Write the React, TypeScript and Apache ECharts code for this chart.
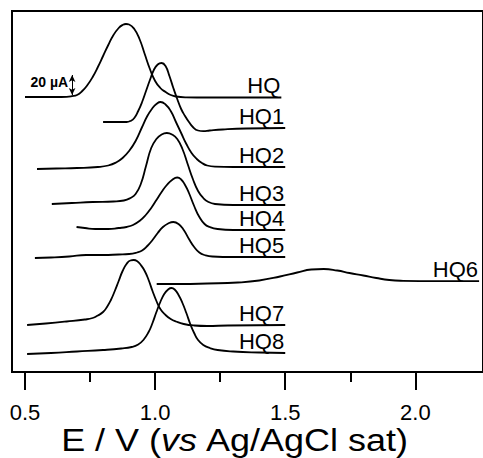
import React, { useEffect, useRef } from "react";
import * as echarts from "echarts";

// Potential axis (E / V) tick values
const majorTicks = [0.5, 1.0, 1.5, 2.0];
const minorTicks = [0.75, 1.25, 1.75];

// Curve labels (drawn at the end of each curve)
const curveNames = ["HQ", "HQ1", "HQ2", "HQ3", "HQ4", "HQ5", "HQ6", "HQ7", "HQ8"];

// Current traces [E (V), current offset (µA)]
const hq = [[0.50, 275], [0.56, 275], [0.62, 275], [0.66, 275.2], [0.68, 275.8], [0.70, 277], [0.72, 281], [0.74, 287], [0.76, 295], [0.78, 305], [0.80, 316], [0.82, 327], [0.84, 337], [0.86, 344], [0.875, 347], [0.888, 348], [0.90, 347.5], [0.92, 343], [0.94, 333], [0.96, 318], [0.98, 303], [1.00, 291], [1.02, 284], [1.04, 280], [1.06, 277], [1.08, 275.5], [1.12, 274.7], [1.20, 274.5], [1.35, 274.5], [1.485, 274.5]];
const hq1 = [[0.80, 250], [0.85, 250], [0.89, 250], [0.905, 251], [0.92, 254], [0.935, 261], [0.95, 270], [0.965, 281], [0.98, 292], [0.995, 302], [1.01, 307.5], [1.025, 309], [1.04, 306], [1.055, 296], [1.07, 284], [1.085, 273], [1.10, 263], [1.115, 256], [1.13, 250], [1.145, 245], [1.165, 241.5], [1.185, 240.8], [1.21, 241.5], [1.26, 242.5], [1.35, 243.5], [1.50, 244]];
const hq2 = [[0.546, 203], [0.62, 203.5], [0.70, 204], [0.78, 205], [0.82, 206.5], [0.85, 209.5], [0.875, 214], [0.90, 221], [0.925, 231], [0.95, 245], [0.97, 256], [0.99, 264], [1.005, 268], [1.021, 270], [1.04, 267.5], [1.06, 261], [1.08, 250], [1.10, 239], [1.12, 228], [1.14, 219], [1.16, 213], [1.18, 209], [1.20, 206.5], [1.23, 205.3], [1.30, 205], [1.50, 205]];
const hq3 = [[0.603, 168], [0.68, 169], [0.76, 170], [0.84, 170.5], [0.88, 171.5], [0.905, 174], [0.925, 178], [0.945, 188], [0.965, 206], [0.985, 224], [1.005, 233], [1.025, 237.5], [1.045, 239], [1.065, 237.5], [1.085, 233], [1.105, 223], [1.125, 208], [1.145, 193], [1.165, 181], [1.185, 174], [1.205, 170], [1.23, 168], [1.30, 167], [1.50, 167]];
const hq4 = [[0.698, 145], [0.73, 144], [0.77, 143], [0.82, 143], [0.86, 144], [0.89, 145], [0.915, 147], [0.94, 151], [0.964, 157], [0.985, 164], [1.005, 172], [1.025, 180], [1.045, 187], [1.065, 192], [1.085, 194.5], [1.10, 192.5], [1.115, 187], [1.13, 179], [1.15, 166], [1.17, 155], [1.19, 148], [1.21, 145], [1.24, 143], [1.30, 142], [1.50, 142]];
const hq5 = [[0.538, 114], [0.60, 114.5], [0.67, 115.5], [0.735, 117], [0.80, 117], [0.86, 117.5], [0.90, 118], [0.93, 119.5], [0.95, 121.5], [0.97, 126], [0.99, 132], [1.01, 139], [1.03, 145], [1.05, 148.5], [1.07, 150], [1.09, 148], [1.11, 142], [1.13, 133], [1.15, 125], [1.17, 119.5], [1.19, 117], [1.22, 115.5], [1.30, 115], [1.50, 115]];
const hq6 = [[1.006, 88], [1.10, 88], [1.20, 88.5], [1.318, 89.5], [1.40, 91.5], [1.48, 95.5], [1.546, 99.5], [1.60, 102.5], [1.648, 103], [1.70, 101.5], [1.747, 99], [1.80, 96.5], [1.85, 94], [1.90, 92], [1.953, 91.2], [2.078, 90.8], [2.245, 90.8]];
const hq7 = [[0.508, 47], [0.58, 48.5], [0.66, 50.5], [0.73, 52.5], [0.76, 54], [0.78, 56.5], [0.80, 60], [0.815, 65], [0.83, 72], [0.845, 81], [0.86, 91], [0.875, 101], [0.89, 108], [0.905, 111.5], [0.918, 112], [0.93, 111], [0.945, 107], [0.96, 101], [0.975, 92], [0.99, 81], [1.005, 71], [1.02, 63], [1.04, 57], [1.06, 53], [1.08, 50.5], [1.11, 48], [1.15, 46.5], [1.20, 46], [1.28, 46.5], [1.50, 47]];
const hq8 = [[0.508, 18], [0.60, 19], [0.70, 20.5], [0.80, 22], [0.87, 23.5], [0.91, 25], [0.935, 27.5], [0.955, 32], [0.975, 40], [0.99, 49], [1.005, 60], [1.02, 70], [1.035, 78], [1.05, 82.5], [1.063, 84], [1.075, 82.5], [1.09, 77], [1.105, 69], [1.12, 59], [1.135, 48], [1.15, 39], [1.165, 32], [1.185, 27], [1.21, 24], [1.24, 22], [1.30, 20.5], [1.40, 19.5], [1.50, 19]];

const curves = [hq, hq1, hq2, hq3, hq4, hq5, hq6, hq7, hq8];

// Scale bar: 20 µA
const scaleBarX = 0.681;
const scaleBar = [277, 297];
const scaleBarLabel = "20 µA";

const FONT = "Arial, 'Liberation Sans', Helvetica, sans-serif";

export default function App() {
  const ref = useRef<HTMLDivElement>(null);
  useEffect(() => {
    if (!ref.current) return;
    const chart = echarts.init(ref.current, null, { renderer: "svg" });
    const xMin = 0.45;
    const xMax = 2.26;
    const series: any[] = curves.map((d, i) => ({
      type: "line",
      name: curveNames[i],
      data: d,
      xAxisIndex: 0,
      yAxisIndex: 0,
      showSymbol: false,
      smooth: 0.5,
      silent: true,
      lineStyle: { color: "#000", width: 1.8 },
      ...(i === 0
        ? {
            markLine: {
              silent: true,
              symbol: ["arrow", "arrow"],
              symbolSize: [5, 7],
              label: { show: false },
              lineStyle: { color: "#000", width: 1, type: "solid" },
              data: [[{ coord: [scaleBarX, scaleBar[0]] }, { coord: [scaleBarX, scaleBar[1]] }]],
            },
          }
        : {}),
    }));
    chart.setOption({
      animation: false,
      grid: {
        left: 12,
        top: 11,
        right: -5,
        bottom: 86,
        show: true,
        borderColor: "#000",
        borderWidth: 2,
      },
      xAxis: [
        {
          type: "value",
          min: xMin,
          max: xMax,
          position: "bottom",
          splitLine: { show: false },
          axisLine: { show: true, onZero: false, lineStyle: { color: "#000", width: 2 } },
          axisTick: { show: true, inside: false, length: 18, customValues: majorTicks, lineStyle: { color: "#000", width: 2 } },
          axisLabel: {
            show: true,
            customValues: majorTicks,
            formatter: (v: number) => v.toFixed(1),
            fontSize: 22,
            fontFamily: FONT,
            color: "#000",
            margin: 29,
          },
        },
        {
          type: "value",
          min: xMin,
          max: xMax,
          position: "bottom",
          splitLine: { show: false },
          axisLine: { show: false, onZero: false },
          axisTick: { show: true, inside: false, length: 10, customValues: minorTicks, lineStyle: { color: "#000", width: 2 } },
          axisLabel: { show: false },
        },
      ],
      yAxis: {
        type: "value",
        min: 0,
        max: 361,
        show: false,
        splitLine: { show: false },
      },
      series,
    });

    const graphics: any[] = [];
    curves.forEach((d, i) => {
      const last = d[d.length - 1];
      const p = chart.convertToPixel({ xAxisIndex: 0, yAxisIndex: 0 }, last) as number[];
      graphics.push({
        type: "text",
        x: p[0] - 1,
        y: p[1] - 12,
        silent: true,
        style: {
          text: curveNames[i],
          fill: "#000",
          font: `22px ${FONT}`,
          align: "right",
          verticalAlign: "middle",
        },
      });
    });
    const sb = chart.convertToPixel({ xAxisIndex: 0, yAxisIndex: 0 }, [scaleBarX, scaleBar[1]]) as number[];
    graphics.push({
      type: "text",
      x: sb[0] - 4,
      y: sb[1] + 7,
      silent: true,
      style: {
        text: scaleBarLabel,
        fill: "#000",
        font: `bold 14px ${FONT}`,
        align: "right",
        verticalAlign: "middle",
      },
    });
    graphics.push({
      type: "text",
      x: 235,
      y: 440.5,
      scaleX: 1.16,
      silent: true,
      style: {
        text: "E / V ({i|vs} Ag/AgCl sat)",
        fill: "#000",
        font: `31px ${FONT}`,
        lineHeight: 30,
        align: "center",
        verticalAlign: "middle",
        rich: { i: { fontStyle: "italic", fontSize: 31, lineHeight: 30, fontFamily: FONT, fill: "#000" } },
      },
    });
    chart.setOption({ graphic: graphics });

    return () => chart.dispose();
  }, []);
  return <div ref={ref} style={{ width: 483, height: 458, position: "absolute", left: 0, top: 0 }} />;
}
